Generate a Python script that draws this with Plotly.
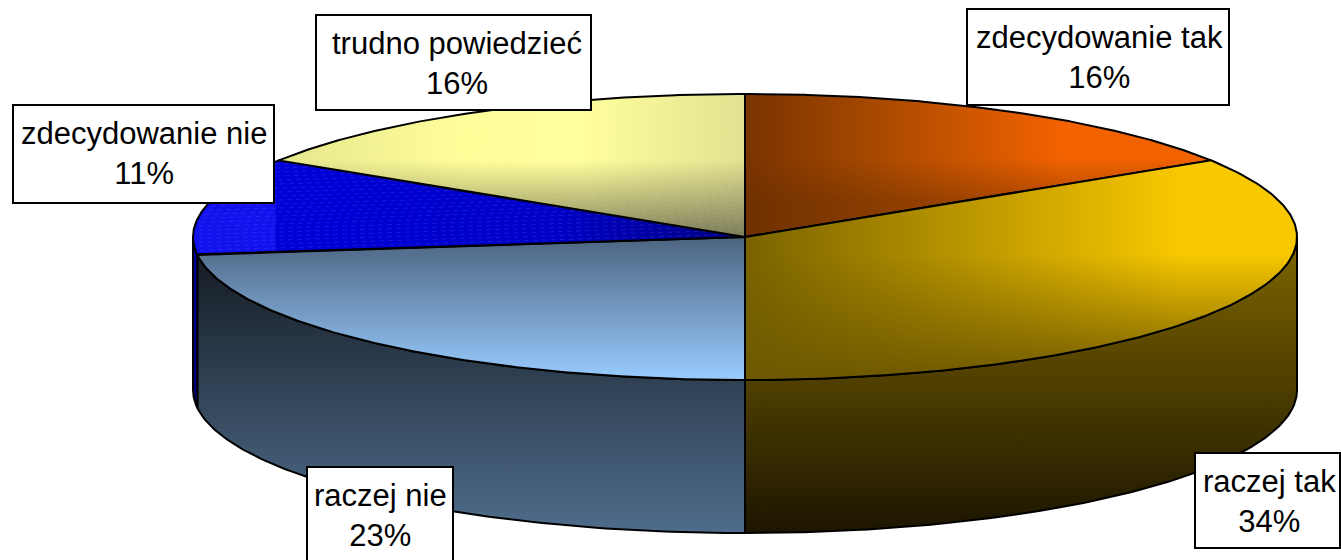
import numpy as np
import plotly.graph_objects as go

categories = ["zdecydowanie tak", "raczej tak", "raczej nie", "zdecydowanie nie", "trudno powiedzieć"]
shares = [16, 34, 23, 11, 16]

CX, CY, RX, RY, DEPTH = 745, 237, 552, 143, 153

# (gradient type, colorscale, start, stop), base and optional overlays
top_styles = [
    [("horizontal", [[0, "#7a3300"], [0.35, "#a04600"], [1, "#f26200"]], 745, 1060),
     ("vertical", [[0, "rgba(100,45,0,0)"], [0.6, "rgba(100,45,0,0)"], [1, "rgba(100,45,0,0.45)"]], 95, 200)],
    [("horizontal", [[0, "#7a6300"], [1, "#f8c800"]], 745, 1180),
     ("vertical", [[0, "rgba(110,88,0,0)"], [0.4, "rgba(110,88,0,0)"], [1, "rgba(110,88,0,1)"]], 170, 380)],
    [("vertical", [[0, "#4c6480"], [1, "#99ccff"]], 237, 380)],
    [("horizontal", [[0, "#1212ee"], [0.15, "#1212ee"], [0.152, "#0000d8"], [0.65, "#0000c8"], [1, "#000080"]], 192, 745)],
    [("horizontal", [[0, "#e6e68c"], [0.4, "#ffff99"], [1, "#ffffa0"]], 280, 745),
     ("horizontal", [[0, "rgba(105,105,80,0)"], [1, "rgba(105,105,80,0.2)"]], 580, 745),
     ("vertical", [[0, "rgba(105,105,80,0)"], [1, "rgba(105,105,80,0.85)"]], 160, 237)],
]
side_styles = [
    None,
    ("vertical", [[0, "#806700"], [1, "#1c1500"]], 237, 533),
    ("vertical", [[0, "#151c24"], [1, "#4f6d8c"]], 255, 533),
    ("vertical", [[0, "#0000a0"], [1, "#000070"]], 237, 408),
    None,
]
# slope and colour of the fine dashed hatch on two slices
hatch_styles = {3: (-0.03, "rgba(110,110,255,0.22)"), 4: (-0.25, "rgba(255,255,255,0.08)")}

label_boxes = [(967, 9, 1229, 105), (1195, 453, 1340, 548), (307, 467, 453, 575),
               (13, 105, 274, 203), (316, 15, 591, 110)]
label_nudges = [1, 2, 0, 0, 3]


def ex(t):
    return CX + RX * np.sin(np.radians(t))


def ey(t):
    return CY - RY * np.cos(np.radians(t))


def polygon(x, y, style, name, line=False):
    kind, scale, start, stop = style
    return go.Scatter(
        x=x, y=y, mode="lines", fill="toself", name=name, hoverinfo="skip",
        fillgradient=dict(type=kind, colorscale=scale, start=start, stop=stop),
        line=dict(color="black", width=2) if line else dict(width=0, color="rgba(0,0,0,0)"),
    )


def hatch(a, b, slope):
    xs = np.arange(CX - RX, CX + 1, 1.0)
    hx, hy = [], []
    for c in np.arange(CY - RY - 200, CY + 200, 4.0):
        ys = c + slope * (xs - CX)
        u, v = (xs - CX) / RX, (CY - ys) / RY
        ang = np.degrees(np.arctan2(u, v)) % 360
        inside = (u * u + v * v <= 0.985) & (ang > a + 0.6) & (ang < b - 0.6)
        if inside.sum() > 2:
            hx += [xs[inside][0], xs[inside][-1], None]
            hy += [ys[inside][0], ys[inside][-1], None]
    return hx, hy


fig = go.Figure()
edges = 360 * np.cumsum([0] + shares) / sum(shares)

# walls
for i, name in enumerate(categories):
    a, b = max(edges[i], 90), min(edges[i + 1], 270)
    if side_styles[i] is None or a >= b:
        continue
    t = np.linspace(a, b, 120)
    x = np.r_[ex(t), ex(t[::-1]), ex(t[0])]
    y = np.r_[ey(t), ey(t[::-1]) + DEPTH, ey(t[0])]
    fig.add_trace(polygon(x, y, side_styles[i], name, line=True))

# top slices
for i, name in enumerate(categories):
    t = np.linspace(edges[i], edges[i + 1], 160)
    x = np.r_[CX, ex(t), CX]
    y = np.r_[CY, ey(t), CY]
    for st in top_styles[i]:
        fig.add_trace(polygon(x, y, st, name))
    if i in hatch_styles:
        slope, color = hatch_styles[i]
        hx, hy = hatch(edges[i], edges[i + 1], slope)
        fig.add_trace(go.Scatter(x=hx, y=hy, mode="lines", hoverinfo="skip", name=name,
                                 line=dict(color=color, width=1, dash="5px,4px")))
    fig.add_trace(go.Scatter(x=x, y=y, mode="lines", hoverinfo="skip", name=name,
                             line=dict(color="black", width=2)))

# label boxes and text
for name, share, (x0, y0, x1, y1), nudge in zip(categories, shares, label_boxes, label_nudges):
    fig.add_shape(type="rect", x0=x0, y0=y0, x1=x1, y1=y1, layer="above",
                  fillcolor="white", line=dict(color="black", width=2))
    fig.add_annotation(x=(x0 + x1) / 2 + nudge, y=y0 + 48, text=f"{name}<br>{share}%", showarrow=False,
                       font=dict(family="Liberation Sans", size=31, color="black"),
                       xanchor="center", yanchor="middle", align="center")

fig.update_layout(
    width=1341, height=560, autosize=False, showlegend=False,
    margin=dict(l=0, r=0, t=0, b=0), paper_bgcolor="white", plot_bgcolor="white",
    xaxis=dict(range=[0, 1341], visible=False, fixedrange=True),
    yaxis=dict(range=[560, 0], visible=False, fixedrange=True),
)
fig.write_html("out.html", post_script="document.body.style.margin='0';document.body.style.overflow='hidden';",
               config={"displayModeBar": False})
